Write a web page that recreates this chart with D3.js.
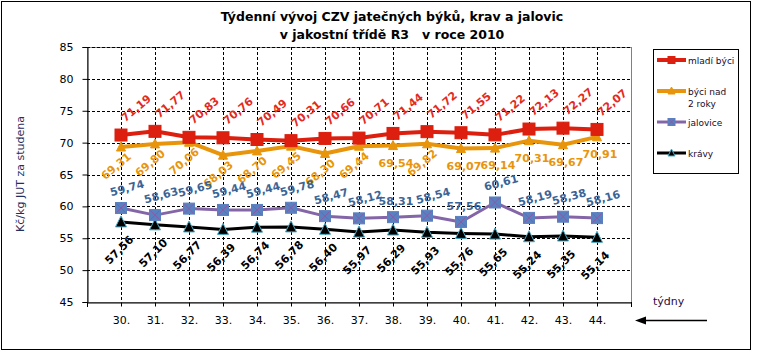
<!DOCTYPE html>
<html><head><meta charset="utf-8">
<script src="https://cdn.jsdelivr.net/npm/d3@7"></script>
<style>
body{margin:0;background:#fff;}
svg{display:block;font-family:"DejaVu Sans",Verdana,sans-serif;}
</style></head>
<body>
<svg id="c" width="758" height="352"></svg>
<script>
const weeks = ["30.","31.","32.","33.","34.","35.","36.","37.","38.","39.","40.","41.","42.","43.","44."];
const mladiByci = [71.19,71.77,70.83,70.76,70.49,70.31,70.66,70.71,71.44,71.72,71.55,71.22,72.13,72.27,72.07];
const byciNad2 = [69.31,69.80,70.06,68.03,68.70,69.45,68.30,69.44,69.54,69.82,69.07,69.14,70.31,69.67,70.91];
const jalovice = [59.74,58.63,59.65,59.44,59.44,59.78,58.47,58.12,58.31,58.54,57.56,60.61,58.19,58.38,58.16];
const kravy = [57.56,57.10,56.77,56.39,56.74,56.78,56.40,55.97,56.29,55.93,55.76,55.65,55.24,55.35,55.14];
const yTicks = [45,50,55,60,65,70,75,80,85];
const seriesNames = ["mladí býci","býci nad|2 roky","jalovice","krávy"];

const svg = d3.select("#c");
const L = 87, R = 631, T = 47, B = 302;
const x = d3.scalePoint().domain(weeks).range([L, R]).padding(1);
const y = d3.scaleLinear().domain([45, 85]).range([B, T]);

svg.append("rect").attr("x",1.5).attr("y",1.5).attr("width",749).attr("height",348)
  .attr("fill","none").attr("stroke","#000").attr("stroke-width",1);

const title = svg.append("text").attr("text-anchor","middle").attr("font-weight","bold")
  .attr("font-size","12.5px").attr("fill","#000");
title.append("tspan").attr("x",392).attr("y",21).text("Týdenní vývoj CZV jatečných býků, krav a jalovic");
title.append("tspan").attr("x",392).attr("y",39).text("v jakostní třídě R3\u00a0\u00a0 v roce 2010");

svg.append("rect").attr("x",L+0.5).attr("y",T+0.5).attr("width",R-L).attr("height",B-T)
  .attr("fill","none").attr("stroke","#808080");

svg.append("g").selectAll("line").data(yTicks.filter(d=>d>45)).join("line")
  .attr("x1",L).attr("x2",R).attr("y1",d=>Math.round(y(d))+0.5).attr("y2",d=>Math.round(y(d))+0.5)
  .attr("stroke","#000").attr("stroke-dasharray","3,2");
svg.append("g").selectAll("line").data(weeks).join("line")
  .attr("x1",d=>Math.round(x(d))+0.5).attr("x2",d=>Math.round(x(d))+0.5).attr("y1",T).attr("y2",B)
  .attr("stroke","#000").attr("stroke-dasharray","3,2");

const yAxis = svg.append("g").attr("transform",`translate(${L+0.5},0)`)
  .call(d3.axisLeft(y).tickValues(yTicks).tickSize(5).tickFormat(d3.format("d")));
yAxis.select(".domain").attr("stroke","#000");
yAxis.selectAll("text").attr("font-size","11px").attr("fill","#000").attr("font-family","DejaVu Sans, Verdana, sans-serif").attr("dx","-6");
const xAxis = svg.append("g").attr("transform",`translate(0,${B+0.5})`)
  .call(d3.axisBottom(x).tickSize(4).tickSizeOuter(0));
xAxis.select(".domain").attr("stroke","#000");
xAxis.selectAll("text").attr("font-size","11px").attr("fill","#000").attr("font-family","DejaVu Sans, Verdana, sans-serif").attr("dy","1.35em");
svg.append("line").attr("x1",L+0.5).attr("x2",L+0.5).attr("y1",B).attr("y2",B+5).attr("stroke","#000");
svg.append("line").attr("x1",R+0.5).attr("x2",R+0.5).attr("y1",B).attr("y2",B+5).attr("stroke","#000");

svg.append("text").attr("transform","translate(24,174) rotate(-90)").attr("text-anchor","middle")
  .attr("font-size","11px").attr("fill","#1f2f5f").text("Kč/kg JUT za studena");

svg.append("text").attr("x",653).attr("y",305).attr("font-size","11px").attr("fill","#2a0a44").text("týdny");
svg.append("line").attr("x1",707).attr("x2",643).attr("y1",320.5).attr("y2",320.5).attr("stroke","#000").attr("stroke-width",1.3);
svg.append("path").attr("d","M635,320.5 L646,316.5 L646,324.5 Z").attr("fill","#000");

const series = [
  {vals:mladiByci, color:"#dc1f0e", width:4, marker:"sq", mfill:"#dc1f0e", mstroke:"#dc1f0e", lab:"#e42a1e",
   rot:-40, dx:15, dy:-27, hor:[], hdx:0, hdy:0},
  {vals:byciNad2, color:"#e8950c", width:4, marker:"tri", mfill:"#e8950c", mstroke:"#e8950c", lab:"#e8950c",
   rot:-40, dx:-5, dy:19, hor:[8,10,11,12,13,14], hdx:3, hdy:17},
  {vals:jalovice, color:"#8466a8", width:3, marker:"sqx", mfill:"#5a80c0", mstroke:"#5a80c0", lab:"#3b6496",
   rot:-15, dx:6, dy:-20, hor:[8,10], hdx:3, hdy:-16},
  {vals:kravy, color:"#000", width:3, marker:"tri", mfill:"#000", mstroke:"#4bacc6", lab:"#000",
   rot:-45, dx:-2, dy:28, hor:[], hdx:0, hdy:0}
];

function drawMarker(g, type, cx, cy, s, fill, stroke){
  if(type==="sq"){
    g.append("rect").attr("x",cx-s/2).attr("y",cy-s/2).attr("width",s).attr("height",s)
      .attr("fill",fill).attr("stroke",stroke);
  } else if(type==="sqx"){
    g.append("rect").attr("x",cx-s/2).attr("y",cy-s/2).attr("width",s).attr("height",s)
      .attr("fill",fill).attr("stroke",stroke);
    g.append("path").attr("d",`M${cx-s/2+1},${cy-s/2+1}L${cx+s/2-1},${cy+s/2-1}M${cx+s/2-1},${cy-s/2+1}L${cx-s/2+1},${cy+s/2-1}`)
      .attr("stroke","#8a5aa8").attr("stroke-width",1);
  } else {
    g.append("path").attr("d",`M${cx},${cy-s/2-1}L${cx+s/2+0.5},${cy+s/2}L${cx-s/2-0.5},${cy+s/2}Z`)
      .attr("fill",fill).attr("stroke",stroke).attr("stroke-width",1);
  }
}

const line = d3.line().x((d,i)=>x(weeks[i])).y(d=>y(d));
[3,2,1,0].forEach(k=>{
  const s = series[k];
  const g = svg.append("g");
  g.append("path").attr("d",line(s.vals)).attr("fill","none").attr("stroke",s.color)
    .attr("stroke-width",s.width).attr("stroke-linejoin","round");
  s.vals.forEach((v,i)=>{
    const size = s.marker==="tri" ? (k===1?8:10) : (k===0?12:11);
    drawMarker(g, s.marker, x(weeks[i]), y(v), size, s.mfill, s.mstroke);
  });
});

series.forEach(s=>{
  const g = svg.append("g");
  s.vals.forEach((v,i)=>{
    const px = x(weeks[i]), py = y(v);
    const hor = s.hor.includes(i);
    const tx = px + (hor? s.hdx : s.dx), ty = py + (hor? s.hdy : s.dy);
    const ang = hor ? 0 : s.rot;
    g.append("text").attr("transform",`translate(${tx.toFixed(1)},${ty.toFixed(1)}) rotate(${ang})`)
      .attr("x",0).attr("y",4).attr("text-anchor","middle")
      .attr("font-size","11px").attr("font-weight","bold").attr("fill",s.lab)
      .text(d3.format(".2f")(v).replace(".",","));
  });
});

svg.append("rect").attr("x",653.5).attr("y",49.5).attr("width",85).attr("height",124)
  .attr("fill","#fff").attr("stroke","#000");
const legY = [60,91,122,153];
series.forEach((s,k)=>{
  const g = svg.append("g");
  g.append("line").attr("x1",657).attr("x2",686).attr("y1",legY[k]).attr("y2",legY[k])
    .attr("stroke",s.color).attr("stroke-width",s.width);
  drawMarker(g, s.marker, 671.5, legY[k], s.marker==="tri"?6:7, s.mfill, s.mstroke);
  const parts = seriesNames[k].split("|");
  const t = g.append("text").attr("font-size","9px").attr("fill","#1a0a2a");
  parts.forEach((p,j)=>t.append("tspan").attr("x",688).attr("y",legY[k]+4+j*12).text(p));
});
</script>
</body></html>
